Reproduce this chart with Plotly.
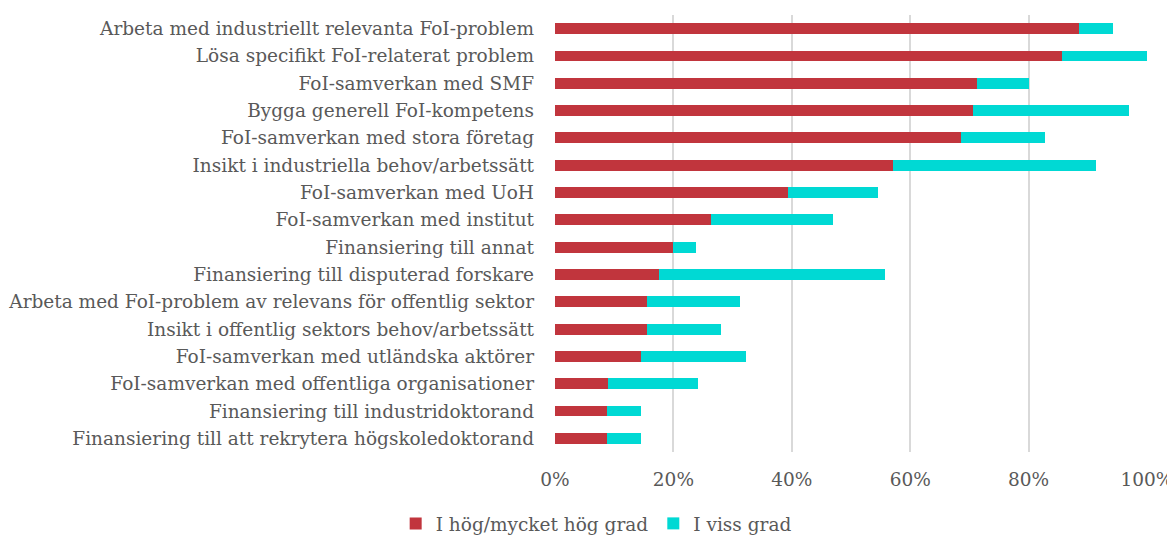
import plotly.graph_objects as go

categories = [
    "Arbeta med industriellt relevanta FoI-problem",
    "Lösa specifikt FoI-relaterat problem",
    "FoI-samverkan med SMF",
    "Bygga generell FoI-kompetens",
    "FoI-samverkan med stora företag",
    "Insikt i industriella behov/arbetssätt",
    "FoI-samverkan med UoH",
    "FoI-samverkan med institut",
    "Finansiering till annat",
    "Finansiering till disputerad forskare",
    "Arbeta med FoI-problem av relevans för offentlig sektor",
    "Insikt i offentlig sektors behov/arbetssätt",
    "FoI-samverkan med utländska aktörer",
    "FoI-samverkan med offentliga organisationer",
    "Finansiering till industridoktorand",
    "Finansiering till att rekrytera högskoledoktorand",
]
hog = [88.5, 85.6, 71.3, 70.6, 68.5, 57.1, 39.4, 26.4, 19.9, 17.6, 15.5, 15.5, 14.5, 9.0, 8.8, 8.8]
viss = [5.8, 14.4, 8.7, 26.4, 14.3, 34.3, 15.1, 20.6, 4.0, 38.1, 15.7, 12.5, 17.8, 15.2, 5.8, 5.8]
series_names = ["I hög/mycket hög grad", "I viss grad"]
tick_vals = [0, 20, 40, 60, 80, 100]
tick_text = ["0%", "20%", "40%", "60%", "80%", "100%"]

FONT = "DejaVu Serif"
GREY = "#595959"
FS = 18.5

fig = go.Figure()
fig.add_trace(go.Bar(y=categories, x=hog, orientation="h", name=series_names[0],
                     marker=dict(color="#C1353D", line=dict(width=0))))
fig.add_trace(go.Bar(y=categories, x=viss, orientation="h", name=series_names[1],
                     marker=dict(color="#00D9D4", line=dict(width=0))))

# page body has an 8px margin, so the figure is sized to fit inside the window
fig.update_layout(
    barmode="stack",
    bargap=0.6,
    width=1167, height=528,
    margin=dict(l=547, r=28, t=7, b=84),
    paper_bgcolor="white", plot_bgcolor="white",
    font=dict(family=FONT, size=FS, color=GREY),
    legend=dict(orientation="h", xref="container", yref="container",
                x=0.504, xanchor="center", y=0.023, yanchor="middle",
                font=dict(size=FS, color=GREY), itemwidth=30, traceorder="normal",
                tracegroupgap=0),
    xaxis=dict(range=[0, 100], tickvals=tick_vals, ticktext=tick_text,
               showgrid=True, gridcolor="#D9D9D9", gridwidth=1.5,
               zeroline=False, showline=False, ticks="", ticklen=0,
               ticklabelstandoff=14, automargin=False,
               tickfont=dict(size=FS, color=GREY)),
    yaxis=dict(autorange="reversed", showgrid=False, showline=False, ticks="",
               ticklabelstandoff=20, automargin=False,
               tickfont=dict(size=FS, color=GREY)),
)

fig.write_html("out.html")
